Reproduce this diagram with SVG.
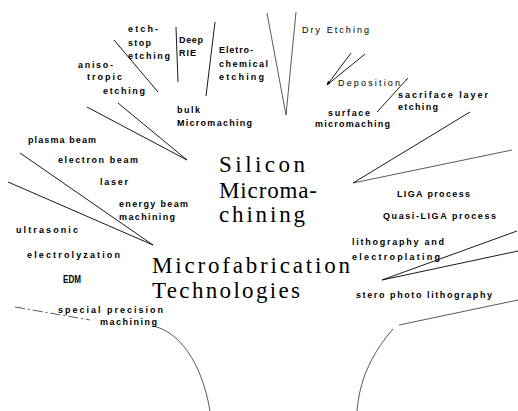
<svg xmlns="http://www.w3.org/2000/svg" width="518" height="411" viewBox="0 0 518 411">
<defs>
<style>
.l{font-family:"Liberation Sans",Arial,sans-serif;font-size:9px;font-weight:bold;fill:#000}
.t{font-family:"Liberation Sans",Arial,sans-serif;font-size:9px;fill:#000}
.c{font-family:"Liberation Serif","Times New Roman",serif;font-size:23px;fill:#000}
.k{stroke:#000;stroke-width:0.9;fill:none}
.f{stroke:#222;stroke-width:0.75;fill:none}
</style>
<marker id="ah" viewBox="0 0 10 10" refX="9" refY="5" markerWidth="5" markerHeight="5" orient="auto"><path d="M0,1 L10,5 L0,9 z" fill="#000"/></marker>
</defs>
<rect width="518" height="411" fill="#fff"/>
<g id="connectors">
<line class="k" x1="114" y1="40" x2="158" y2="92"/>
<line class="k" x1="176" y1="27" x2="178" y2="82"/>
<line class="k" x1="215" y1="22" x2="206" y2="96"/>
<line class="k" x1="118" y1="103" x2="187" y2="160"/>
<line class="k" x1="87" y1="107" x2="187" y2="160"/>
<line class="k" x1="20" y1="153" x2="153" y2="245"/>
<line class="k" x1="8" y1="182" x2="153" y2="245"/>
<line class="f" x1="267" y1="13" x2="286" y2="115"/>
<line class="f" x1="296" y1="12" x2="286" y2="115"/>
<line class="k" x1="351" y1="53" x2="327" y2="85" marker-end="url(#ah)"/>
<line class="k" x1="365" y1="54" x2="327" y2="85"/>
<line class="k" x1="408" y1="78" x2="377" y2="112"/>
<line class="k" x1="470" y1="112" x2="353" y2="183"/>
<line class="f" x1="512" y1="150" x2="353" y2="183"/>
<line class="k" x1="517" y1="231" x2="382" y2="280"/>
<line class="k" x1="518" y1="251" x2="382" y2="280"/>
<line class="f" x1="518" y1="300" x2="399" y2="325"/>
<path class="f" d="M393,329 C375,350 360,375 357,411"/>
<line class="f" x1="15" y1="307" x2="90" y2="320" stroke-dasharray="10,3,2,3"/>
<path class="f" d="M152,326 C178,330 202,362 210,411"/>
</g>
<g id="silicon-micromachining"><text class="c" x="219" y="172" textLength="86" lengthAdjust="spacing">Silicon</text><text class="c" x="219" y="198" textLength="98" lengthAdjust="spacing">Microma-</text><text class="c" x="219" y="222" textLength="86" lengthAdjust="spacing">chining</text></g>
<g id="microfabrication"><text class="c" x="152" y="273" textLength="198" lengthAdjust="spacing">Microfabrication</text><text class="c" x="152" y="298" textLength="148" lengthAdjust="spacing">Technologies</text></g>
<g id="etch-stop"><text class="l" x="128" y="32" textLength="30" lengthAdjust="spacing">etch-</text><text class="l" x="128" y="46" textLength="23" lengthAdjust="spacing">stop</text><text class="l" x="128" y="59" textLength="42" lengthAdjust="spacing">etching</text></g>
<g id="deep-rie"><text class="l" x="179" y="43" textLength="24" lengthAdjust="spacing">Deep</text><text class="l" x="179" y="56" textLength="17" lengthAdjust="spacing">RIE</text></g>
<g id="electrochemical"><text class="l" x="219" y="53" textLength="34" lengthAdjust="spacing">Eletro-</text><text class="l" x="219" y="67" textLength="49" lengthAdjust="spacing">chemical</text><text class="l" x="219" y="80" textLength="45" lengthAdjust="spacing">etching</text></g>
<g id="anisotropic"><text class="l" x="78" y="68" textLength="35" lengthAdjust="spacing">aniso-</text><text class="l" x="87" y="80" textLength="35" lengthAdjust="spacing">tropic</text><text class="l" x="103" y="94" textLength="42" lengthAdjust="spacing">etching</text></g>
<g id="bulk"><text class="l" x="177" y="113" textLength="23" lengthAdjust="spacing">bulk</text><text class="l" x="177" y="126" textLength="75" lengthAdjust="spacing">Micromaching</text></g>
<g id="dry-etching"><text class="t" x="302" y="33" textLength="67" lengthAdjust="spacing">Dry Etching</text></g>
<g id="deposition"><text class="t" x="338" y="86" textLength="62" lengthAdjust="spacing">Deposition</text></g>
<g id="sacrificial"><text class="l" x="398" y="98" textLength="90" lengthAdjust="spacing">sacriface layer</text><text class="l" x="398" y="110" textLength="40" lengthAdjust="spacing">etching</text></g>
<g id="surface"><text class="l" x="328" y="116" textLength="42" lengthAdjust="spacing">surface</text><text class="l" x="315" y="127" textLength="75" lengthAdjust="spacing">micromaching</text></g>
<g id="plasma-beam"><text class="l" x="28" y="143" textLength="68" lengthAdjust="spacing">plasma beam</text></g>
<g id="electron-beam"><text class="l" x="58" y="163" textLength="80" lengthAdjust="spacing">electron beam</text></g>
<g id="laser"><text class="l" x="100" y="185" textLength="28" lengthAdjust="spacing">laser</text></g>
<g id="energy-beam"><text class="l" x="119" y="207" textLength="69" lengthAdjust="spacing">energy beam</text><text class="l" x="119" y="220" textLength="56" lengthAdjust="spacing">machining</text></g>
<g id="ultrasonic"><text class="l" x="16" y="233" textLength="62" lengthAdjust="spacing">ultrasonic</text></g>
<g id="electrolyzation"><text class="l" x="27" y="258" textLength="93" lengthAdjust="spacing">electrolyzation</text></g>
<g id="edm"><text class="l" x="63" y="283" style="font-size:10px" textLength="18" lengthAdjust="spacingAndGlyphs">EDM</text></g>
<g id="special-precision"><text class="l" x="58" y="313" textLength="105" lengthAdjust="spacing">special precision</text><text class="l" x="100" y="325" textLength="57" lengthAdjust="spacing">machining</text></g>
<g id="liga"><text class="l" x="397" y="197" textLength="73" lengthAdjust="spacing">LIGA process</text></g>
<g id="quasi-liga"><text class="l" x="383" y="219" textLength="113" lengthAdjust="spacing">Quasi-LIGA process</text></g>
<g id="lithography-electroplating"><text class="l" x="352" y="245" textLength="92" lengthAdjust="spacing">lithography and</text><text class="l" x="352" y="260" textLength="88" lengthAdjust="spacing">electroplating</text></g>
<g id="stereo-photo"><text class="l" x="356" y="298" textLength="136" lengthAdjust="spacing">stero photo lithography</text></g>
</svg>
